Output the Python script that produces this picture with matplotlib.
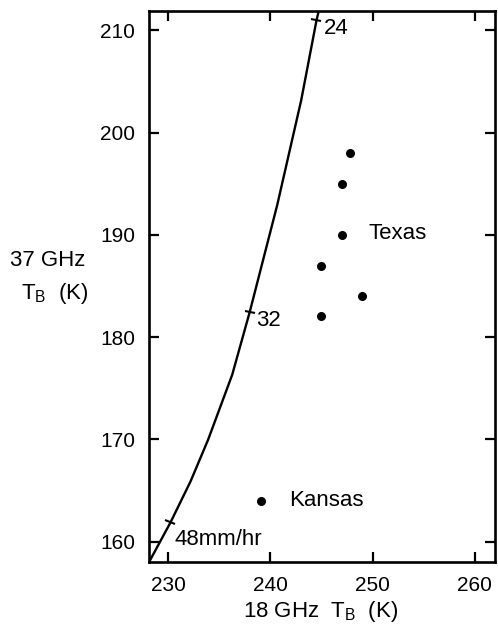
import matplotlib
matplotlib.use("Agg")
import matplotlib.pyplot as plt
from matplotlib.markers import MarkerStyle
from matplotlib.transforms import Affine2D
import numpy as np

plt.rcParams['font.family'] = ['Liberation Sans', 'DejaVu Sans']
plt.rcParams['mathtext.fontset'] = 'custom'
plt.rcParams['mathtext.rm'] = 'Liberation Sans'
plt.rcParams['mathtext.it'] = 'Liberation Sans'

# Model curve (18 GHz TB vs 37 GHz TB)
curve_x = [228.24, 230.20, 232.16, 233.89, 236.25, 237.97, 240.66, 243.01, 244.51, 244.74]
curve_y = [158.24, 161.86, 165.86, 169.96, 176.31, 182.46, 192.91, 203.16, 210.98, 211.95]

# Rain-rate tick marks on the curve
rain_labels = ['48mm/hr', '32', '24']
rain_x = [230.2, 238.0, 244.5]
rain_y = [161.9, 182.5, 211.0]

# Observations
texas_x = [247.8, 247.0, 247.0, 245.0, 249.0, 245.0]
texas_y = [198.0, 195.0, 190.0, 187.0, 184.0, 182.1]
kansas_x = [239.1]
kansas_y = [164.0]

xticks = [230, 240, 250, 260]
yticks = [160, 170, 180, 190, 200, 210]

W, H = 498, 633
fig = plt.figure(figsize=(W / 100, H / 100), dpi=100)
ax = fig.add_axes([149 / W, 1 - 562 / H, (495 - 149) / W, (562 - 11) / H])

ax.set_xlim(228.1, 262.0)
ax.set_ylim(158.0, 211.9)

ax.plot(curve_x, curve_y, color='black', lw=1.7, solid_joinstyle='round')

# perpendicular ticks on curve
fig.canvas.draw()
cx = np.array(curve_x); cy = np.array(curve_y)
disp = ax.transData.transform(np.column_stack([cx, cy]))
for lx, ly in zip(rain_x, rain_y):
    i = np.clip(np.searchsorted(cy, ly), 1, len(cy) - 1)
    d = disp[i] - disp[i - 1]
    ang = np.degrees(np.arctan2(d[1], d[0])) + 90
    m = MarkerStyle('_', transform=Affine2D().rotate_deg(ang))
    ax.plot([lx], [ly], marker=m, ms=8, mew=1.5, color='black', clip_on=False)

fs = 15
fl = 16
ax.text(245.2, 210.2, rain_labels[2], fontsize=fl, ha='left', va='center')
ax.text(238.6, 181.6, rain_labels[1], fontsize=fl, ha='left', va='center')
ax.text(230.6, 160.2, rain_labels[0], fontsize=fl, ha='left', va='center')

ax.scatter(texas_x, texas_y, s=30, color='black', zorder=3)
ax.scatter(kansas_x, kansas_y, s=30, color='black', zorder=3)
ax.text(249.6, 190.1, 'Texas', fontsize=fl, ha='left', va='center')
ax.text(241.8, 164.05, 'Kansas', fontsize=fl, ha='left', va='center')

ax.set_xticks(xticks)
ax.set_yticks(yticks)
ax.tick_params(direction='in', length=7, width=1.6, labelsize=fs, pad=10,
               top=True, right=True, colors='black')
for s in ax.spines.values():
    s.set_linewidth(1.9)

fig.text(321 / W, 1 - 612 / H, r'18 GHz  T$_{\mathrm{B}}$  (K)', fontsize=fl,
         ha='center', va='center')
fig.text(48 / W, 1 - 261 / H, '37 GHz', fontsize=fl, ha='center', va='center')
fig.text(55 / W, 1 - 294 / H, r'T$_{\mathrm{B}}$  (K)', fontsize=fl, ha='center', va='center')

fig.savefig('out.png', dpi=100)
